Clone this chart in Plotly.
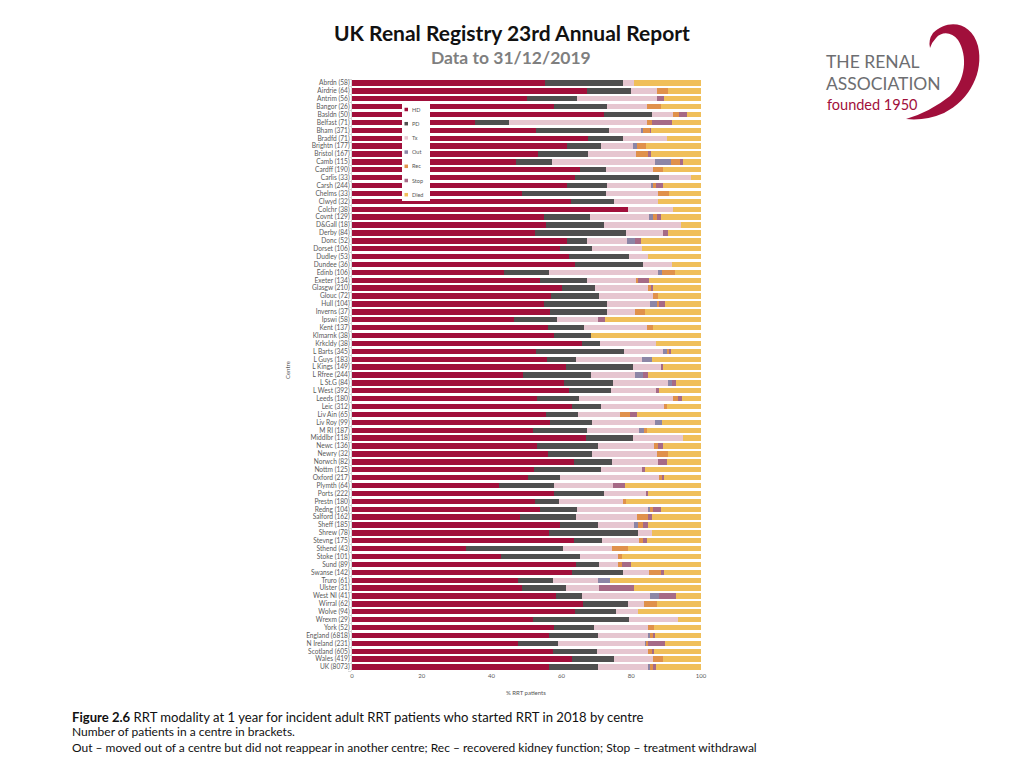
import plotly.graph_objects as go

centres = ["Abrdn (58)", "Airdrie (64)", "Antrim (56)", "Bangor (26)", "Basldn (50)", "Belfast (71)",
           "Bham (371)", "Bradfd (71)", "Brightn (177)", "Bristol (167)", "Camb (115)", "Cardff (190)",
           "Carlis (33)", "Carsh (244)", "Chelms (33)", "Clwyd (32)", "Colchr (38)", "Covnt (129)",
           "D&Gall (18)", "Derby (84)", "Donc (52)", "Dorset (106)", "Dudley (53)", "Dundee (36)",
           "Edinb (106)", "Exeter (134)", "Glasgw (210)", "Glouc (72)", "Hull (104)", "Inverns (37)",
           "Ipswi (58)", "Kent (137)", "Klmarnk (38)", "Krkcldy (38)", "L Barts (345)", "L Guys (183)",
           "L Kings (149)", "L Rfree (244)", "L St.G (84)", "L West (392)", "Leeds (180)", "Leic (312)",
           "Liv Ain (65)", "Liv Roy (99)", "M RI (187)", "Middlbr (118)", "Newc (136)", "Newry (32)",
           "Norwch (82)", "Nottm (125)", "Oxford (217)", "Plymth (64)", "Ports (222)", "Prestn (180)",
           "Redng (104)", "Salford (162)", "Sheff (185)", "Shrew (78)", "Stevng (175)", "Sthend (43)",
           "Stoke (101)", "Sund (89)", "Swanse (142)", "Truro (61)", "Ulster (31)", "West NI (41)",
           "Wirral (62)", "Wolve (94)", "Wrexm (29)", "York (52)", "England (6818)", "N Ireland (231)",
           "Scotland (605)", "Wales (419)", "UK (8073)"]

hd = [55.3, 67.2, 50.0, 57.9, 72.2, 35.1, 52.7, 67.6, 61.5, 53.4, 47.0, 65.3, 63.9, 61.5, 48.6,
      62.7, 79.1, 55.1, 55.6, 52.4, 61.5, 59.6, 62.3, 64.0, 43.6, 53.9, 60.2, 56.9, 55.0, 56.7,
      46.5, 56.3, 57.9, 65.8, 52.7, 55.8, 61.2, 48.9, 60.7, 62.3, 52.9, 62.9, 55.5, 56.7, 52.0,
      67.0, 53.1, 56.3, 63.6, 52.1, 50.3, 42.2, 57.9, 52.4, 53.9, 48.1, 59.6, 56.5, 63.6, 32.7,
      42.7, 64.2, 62.9, 47.7, 48.6, 58.5, 66.1, 64.0, 52.0, 57.9, 56.4, 47.7, 57.7, 62.9, 56.5]
pd_ = [22.3, 12.6, 14.4, 15.3, 13.9, 10.0, 20.9, 10.0, 9.8, 14.3, 10.4, 7.5, 24.1, 11.5, 24.2,
       12.4, 0.0, 13.1, 16.6, 26.1, 5.7, 9.3, 17.1, 19.5, 12.9, 13.3, 9.4, 14.0, 18.2, 16.5,
       12.1, 10.2, 10.6, 5.3, 25.2, 8.3, 19.4, 19.6, 14.2, 11.9, 12.2, 8.4, 9.2, 12.2, 15.4,
       13.6, 17.5, 12.6, 11.0, 19.2, 9.3, 15.7, 14.3, 7.0, 10.7, 16.1, 10.8, 25.5, 7.9, 27.9,
       22.6, 6.7, 14.7, 9.8, 12.7, 7.3, 13.1, 11.6, 27.4, 11.4, 14.0, 11.4, 12.6, 12.2, 13.9]
tx = [3.2, 7.7, 23.1, 11.4, 5.8, 39.3, 9.3, 12.6, 9.3, 13.7, 29.4, 13.5, 9.0, 12.6, 15.0,
      12.5, 13.0, 17.0, 22.1, 10.7, 11.7, 14.1, 5.5, 8.1, 31.3, 14.4, 15.1, 15.3, 12.2, 7.9,
      12.0, 18.1, 0.0, 15.9, 11.3, 18.9, 7.9, 12.6, 15.5, 12.9, 27.0, 18.1, 12.1, 17.9, 14.8,
      14.3, 16.0, 18.6, 13.2, 11.9, 28.5, 17.0, 11.9, 18.3, 20.1, 17.4, 10.5, 3.9, 10.7, 13.8,
      10.8, 5.4, 7.6, 13.1, 9.6, 19.6, 4.6, 6.4, 13.9, 15.4, 14.3, 24.9, 14.4, 11.2, 14.3]
out = [0, 0, 0, 0, 0, 0, 0.4, 0, 1.2, 0, 4.5, 0, 0, 0.7, 0,
       0, 0, 1.0, 0, 0, 2.2, 0, 0, 0, 0.9, 0, 0, 0, 2.1, 0,
       0, 0, 0, 0, 1.0, 2.9, 0, 2.4, 1.2, 0, 0, 0, 0, 2.1, 1.6,
       0, 0, 0, 0, 0, 0, 0, 0, 0, 0.7, 0, 1.1, 0, 0, 0,
       0, 0, 0, 3.3, 0, 2.7, 0, 0, 0, 0, 0.7, 0.4, 0, 0, 0.7]
rec = [0, 3.1, 0, 3.9, 1.9, 1.5, 2.1, 0, 2.4, 3.5, 2.7, 2.7, 0, 0.8, 3.1,
       0, 0, 1.3, 0, 0, 0, 0, 0, 0, 3.9, 0.4, 1.2, 1.6, 0.6, 2.9,
       0, 1.6, 0, 0, 0.7, 0, 0, 0, 0, 0, 1.4, 0.8, 2.9, 0, 0.6,
       0, 1.2, 3.1, 0, 0, 0.9, 0, 0, 0.8, 0.9, 3.3, 1.5, 0, 1.3, 4.8,
       1.2, 1.2, 3.3, 0, 0, 0, 3.7, 0, 0, 1.9, 0.8, 0.5, 1.2, 2.9, 0.8]
stop = [0, 0, 1.9, 0, 2.1, 5.7, 0.3, 0, 0, 0.8, 0.7, 0, 0, 1.9, 0,
        0, 0, 0.9, 0, 1.2, 1.6, 0, 0, 0, 0, 3.2, 0.4, 0, 1.6, 0,
        1.9, 0, 0, 0, 0.5, 0, 0.7, 1.4, 1.2, 1.0, 1.0, 0, 1.9, 0, 0,
        0, 1.2, 0, 2.4, 0.8, 0.4, 3.3, 0.6, 0, 2.2, 1.0, 1.4, 0, 1.1, 0,
        0, 2.4, 1.0, 0, 9.9, 4.7, 0, 0, 0, 0, 0.6, 4.8, 0.7, 0, 0.9]
died = [19.2, 9.4, 10.6, 11.5, 4.1, 8.4, 14.3, 9.8, 15.8, 14.3, 5.3, 11.0, 3.0, 11.0, 9.1,
        12.4, 7.9, 11.6, 5.7, 9.6, 17.3, 17.0, 15.1, 8.4, 7.4, 14.8, 13.7, 12.2, 10.3, 16.0,
        27.5, 13.8, 31.5, 13.0, 8.6, 14.1, 10.8, 15.1, 7.2, 11.9, 5.5, 9.8, 18.4, 11.1, 15.6,
        5.1, 11.0, 9.4, 9.8, 16.0, 10.6, 21.8, 15.3, 21.5, 11.5, 14.1, 15.1, 14.1, 15.4, 20.8,
        22.7, 20.1, 10.5, 26.1, 19.2, 7.2, 12.5, 18.0, 6.7, 13.4, 13.2, 10.3, 13.4, 10.8, 12.9]

series_names = ["HD", "PD", "Tx", "Out", "Rec", "Stop", "Died"]
series_values = [hd, pd_, tx, out, rec, stop, died]
colors = ["#A10F3B", "#4F4F4F", "#E6C6D0", "#8C86A6", "#E0914B", "#A66A86", "#F0BF5A"]
x_ticks = [0, 20, 40, 60, 80, 100]

# page has an 8px body margin: work in page pixels and convert
OFF = 8
W, H = 1024 - OFF, 768 - OFF
L, R, T, B = 352, 701, 79, 671   # plot area in page pixels


def px(x):
    return (x - L) / (R - L)


def py(y):
    return (B - y) / (B - T)


fig = go.Figure()
for name, vals, col in zip(series_names, series_values, colors):
    fig.add_trace(go.Bar(y=centres, x=vals, name=name, orientation="h",
                         marker=dict(color=col, line=dict(width=0)),
                         showlegend=False))


def ann(text, x, y, size, color="#111111", xanchor="left", family="Lato", **kw):
    d = dict(text=text, x=px(x), y=py(y), xref="paper", yref="paper",
             font=dict(size=size, color=color, family=family), showarrow=False,
             xanchor=xanchor, yanchor="middle")
    d.update(kw)
    return d


annotations = [
    ann("<b>UK Renal Registry 23rd Annual Report</b>", 512, 32, 21, xanchor="center"),
    ann("<b>Data to 31/12/2019</b>", 511, 57, 17.5, color="#7F7F7F", xanchor="center"),
    ann("Centre", 287, 370, 6, color="#555555", xanchor="center", textangle=-90),
    ann("% RRT patients", 526, 693, 6, color="#555555", xanchor="center"),
    ann("<b>Figure 2.6</b> RRT modality at 1 year for incident adult RRT patients who started RRT in 2018 by centre",
        70, 717, 13.1),
    ann("Number of patients in a centre in brackets.", 70, 731, 12),
    ann("Out \u2013 moved out of a centre but did not reappear in another centre; Rec \u2013 recovered kidney function; Stop \u2013 treatment withdrawal",
        70, 747, 12),
    ann("THE RENAL", 824, 61.5, 17.5, color="#6D6E71"),
    ann("ASSOCIATION", 824, 83.5, 17.5, color="#6D6E71"),
    ann("founded 1950", 825, 104, 14.5, color="#A10F3B"),
]

shapes = []
# manual legend box with small swatches
shapes.append(dict(type="rect", xref="paper", yref="paper",
                   x0=px(402), x1=px(430), y0=py(102), y1=py(201),
                   fillcolor="white", line=dict(width=0), layer="above"))
for i, (name, col) in enumerate(zip(series_names, colors)):
    yc = 109.5 + i * 14.2
    shapes.append(dict(type="rect", xref="paper", yref="paper",
                       x0=px(404.5), x1=px(408), y0=py(yc + 1.75), y1=py(yc - 1.75),
                       fillcolor=col, line=dict(width=0), layer="above"))
    annotations.append(ann(name, 409.5, yc, 5.5, color="#555555"))

# logo swoosh, defined in page pixels and converted to paper coordinates
pts = [("M", [(933, 33)]),
       ("C", [(948, 18), (972, 22), (978, 46)]),
       ("C", [(984, 72), (970, 100), (944, 113)]),
       ("Q", [(926, 121), (906, 119)]),
       ("Q", [(930, 112), (950, 96)]),
       ("C", [(966, 80), (968, 56), (958, 40)]),
       ("C", [(952, 32), (942, 31), (936, 38)]),
       ("Q", [(932, 42), (930, 48)]),
       ("Q", [(928, 40), (933, 33)])]
path = ""
for cmd, plist in pts:
    path += cmd + " " + " ".join(f"{px(x):.4f},{py(y):.4f}" for x, y in plist) + " "
path += "Z"
shapes.append(dict(type="path", path=path, xref="paper", yref="paper",
                   fillcolor="#A10F3B", line=dict(width=0)))

fig.update_layout(
    width=W, height=H,
    barmode="stack", bargap=0.32,
    paper_bgcolor="white", plot_bgcolor="white",
    margin=dict(l=L - OFF, r=W - (R - OFF), t=T - OFF, b=H - (B - OFF), autoexpand=False),
    font=dict(family="Lato", size=6, color="#555555"),
    showlegend=False,
    annotations=annotations,
    shapes=shapes,
)
fig.update_xaxes(range=[0, 100], tickvals=x_ticks, showgrid=False, zeroline=False,
                 showline=False, ticks="", tickfont=dict(size=6, color="#595959"))
fig.update_yaxes(autorange="reversed", showgrid=False, showline=True, linecolor="#D9D9D9",
                 tickmode="array", tickvals=centres, ticktext=centres,
                 ticks="outside", ticklen=3, tickcolor="#D9D9D9", tickson="boundaries",
                 tickfont=dict(size=6.6, color="#595959"))

fig.write_html("out.html")
